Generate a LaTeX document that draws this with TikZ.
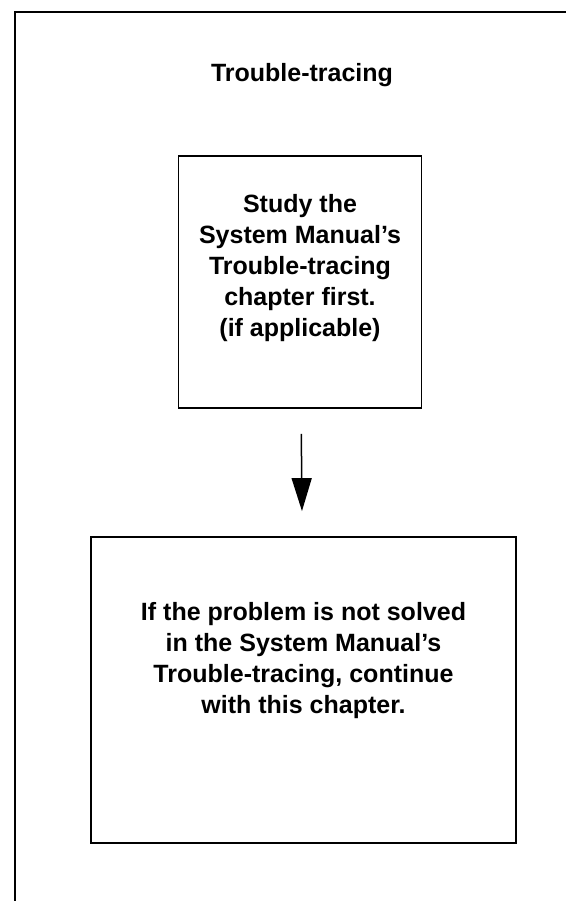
\documentclass[tikz,border=0pt]{standalone}
\usepackage{fontspec}
\setmainfont{Liberation Sans}
\usetikzlibrary{arrows.meta,positioning}

\begin{document}
\begin{tikzpicture}[x=1pt, y=1pt,
  box/.style={draw, line width=1.8pt, inner sep=0pt},
  txt/.style={font=\fontsize{25}{31}\selectfont\bfseries, align=center, inner sep=0pt},
  arr/.style={-{Triangle[length=33pt, width=20pt]}, line width=1.5pt}]
\useasboundingbox (0,0) rectangle (565,901);
% page frame (top and left only)
\coordinate (ftop) at (566,889);
\coordinate (fcorner) at (15,889);
\coordinate (fbot) at (15,-1);
\draw[line width=2.5pt] (ftop) -- (fcorner) -- (fbot);
\node[txt] (title) at (302,826) {Trouble-tracing};
\node[box, minimum width=243pt, minimum height=252pt] (study) at (300,619) {};
\node[txt] (studytxt) at ([yshift=14pt]study.center) {Study the\\ System Manual's\\ Trouble-tracing\\ chapter first.\\ (if applicable)};
\node[box, minimum width=425pt, minimum height=306pt] (solve) at (303.5,211) {};
\node[txt] (solvetxt) at ([yshift=29pt]solve.center) {If the problem is not solved\\ in the System Manual's\\ Trouble-tracing, continue\\ with this chapter.};
\draw[arr, shorten <=25pt, shorten >=25pt] (study) -- (solve);
\end{tikzpicture}
\end{document}
